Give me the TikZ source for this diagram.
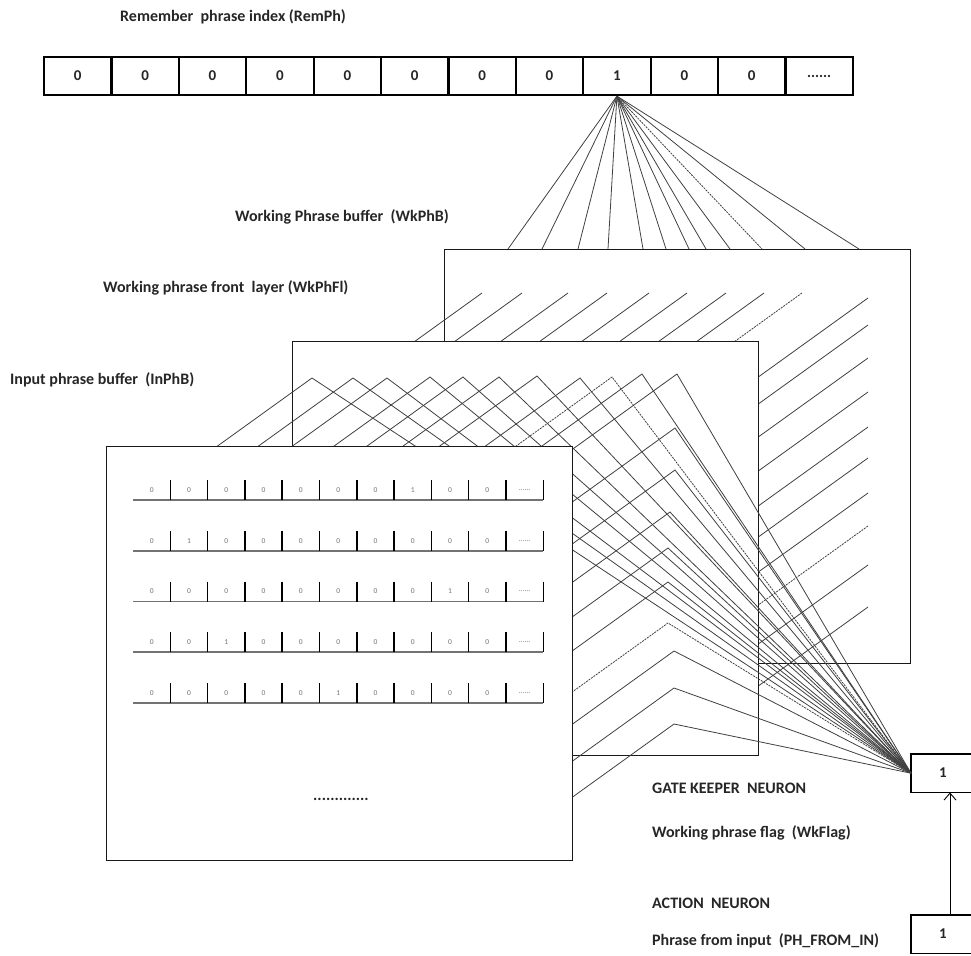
\documentclass[tikz,border=0pt]{standalone}
\usepackage{fontspec}
\setmainfont{Carlito}
\usetikzlibrary{arrows.meta}

\newcommand{\celldots}{......}

\tikzset{
    lbltext/.style={anchor=base west, inner sep=0pt, font=\bfseries\fontsize{16}{19}\selectfont, text=black!85},
    remcell/.style={draw, line width=2.2pt, minimum width=67.4pt, minimum height=38pt, inner sep=0pt, font=\bfseries\fontsize{15}{18}\selectfont, text=black!85},
    panel/.style={draw=black!90, fill=white, line width=1.2pt, anchor=north west, minimum width=466pt, minimum height=414pt, inner sep=0pt},
    wire/.style={black!75, line width=0.8pt},
    dotwire/.style={wire, dash pattern=on 2pt off 1pt},
    neuron/.style={anchor=north west, minimum width=60pt, minimum height=38pt, inner sep=0pt},
    neuronline/.style={line width=1.8pt},
    neuronval/.style={inner sep=0pt, font=\bfseries\fontsize{15}{18}\selectfont, text=black!85},
    bit/.style={inner sep=0pt, font=\fontsize{7.5}{8}\selectfont, text=black!55},
    rowbase/.style={black!55, line width=1.8pt},
    rowsep/.style={black, line width=1.5pt}
}

\begin{document}
\begin{tikzpicture}[x=1pt, y=-1pt]
\useasboundingbox (0,0) rectangle (971,955);
\clip (0,0) rectangle (971,955);

% Labels
\node[lbltext] (remlbl) at (120,22) {Remember\ \ phrase index (RemPh)};
\node[lbltext] (wkphblbl) at (235,221) {Working Phrase buffer\ \ (WkPhB)};
\node[lbltext] (wkphfllbl) at (103,292) {Working phrase front\ \ layer (WkPhFl)};
\node[lbltext] (inphblbl) at (10,384) {Input phrase buffer\ \ (InPhB)};
\node[lbltext] (gatelbl) at (652,793) {GATE KEEPER\ \ NEURON};
\node[lbltext] (flaglbl) at (652,837) {Working phrase flag\ \ (WkFlag)};
\node[lbltext] (actlbl) at (652,908) {ACTION\ \ NEURON};
\node[lbltext] (phlbl) at (652,945) {Phrase from input\ \ (PH\_FROM\_IN)};

% Remember phrase index
\foreach \v [count=\i] in {0,0,0,0,0,0,0,0,1,0,0,\celldots}
    \node[remcell] (rem\i) at (44+67.4*\i-33.7,76) {\v};

% Neurons (boxes run past the right margin)
\node[neuron] (gate) at (911,754) {};
\draw[neuronline] (gate.north east) -- (gate.north west) -- (gate.south west) -- (gate.south east);
\node[neuronval] (gateval) at (943,773) {1};
\node[neuron] (action) at (911,915) {};
\draw[neuronline] (action.north east) -- (action.north west) -- (action.south west) -- (action.south east);
\node[neuronval] (actval) at (943,934) {1};
\coordinate (feed) at (950,850);

% Working phrase buffer
\node[panel] (wkphb) at (444,249) {};
\foreach \x in {508,542,578,608,643,666,689,706,730,805,859}
    \draw[wire] (rem9.south) -- (\x,249);
\draw[dotwire] (rem9.south) -- (762,249);
\foreach \x in {482,522,568,607,649,687,726,764}
    \draw[wire] (\x,293) -- (\x-100,293+72);
\draw[dotwire] (802,293) -- (702,365);
\foreach \y in {298,325,358,392,427,458,493,565,607}
    \draw[wire] (868,\y) -- (718,\y+108);
\draw[dotwire] (868,526) -- (718,634);

% Working phrase front layer
\node[panel] (wkphfl) at (292,341) {};
\foreach \px/\py in {312/378,353/378,387/378,430/377,463/377,499/377,537/376,580/378,642/374,677/374,
                     675/428,675/470,670/512,668/548,668/582,674/651,674/688,674/724}
    \draw[wire] (\px-150,\py+108) -- (\px,\py) -- (gate.west);
\draw[dotwire] (612-150,377+108) -- (612,377) -- (gate.west);
\draw[dotwire] (668-150,623+108) -- (668,623) -- (gate.west);

% Input phrase buffer
\node[panel] (inphb) at (106,446) {};
\foreach \row [count=\r] in {{0,0,0,0,0,0,0,1,0,0,\celldots},{0,1,0,0,0,0,0,0,0,0,\celldots},
                             {0,0,0,0,0,0,0,0,1,0,\celldots},{0,0,1,0,0,0,0,0,0,0,\celldots},
                             {0,0,0,0,0,1,0,0,0,0,\celldots}}{
    \draw[rowbase] (133,449.25+50.75*\r) -- (543,449.25+50.75*\r);
    \foreach \v [count=\c] in \row {
        \draw[rowsep] (133+37.3*\c,429.25+50.75*\r) -- (133+37.3*\c,449.25+50.75*\r);
        \node[bit] (b\r-\c) at (114.35+37.3*\c,439.25+50.75*\r) {\v};
    }
}
\node[lbltext, anchor=base] (moredots) at (341,800) {.............};

% Action neuron feeds the gate keeper
\draw[-{Straight Barb[length=7pt,width=12pt]}, line width=0.9pt] (feed |- action.north) -- (feed |- gate.south);

\end{tikzpicture}
\end{document}
